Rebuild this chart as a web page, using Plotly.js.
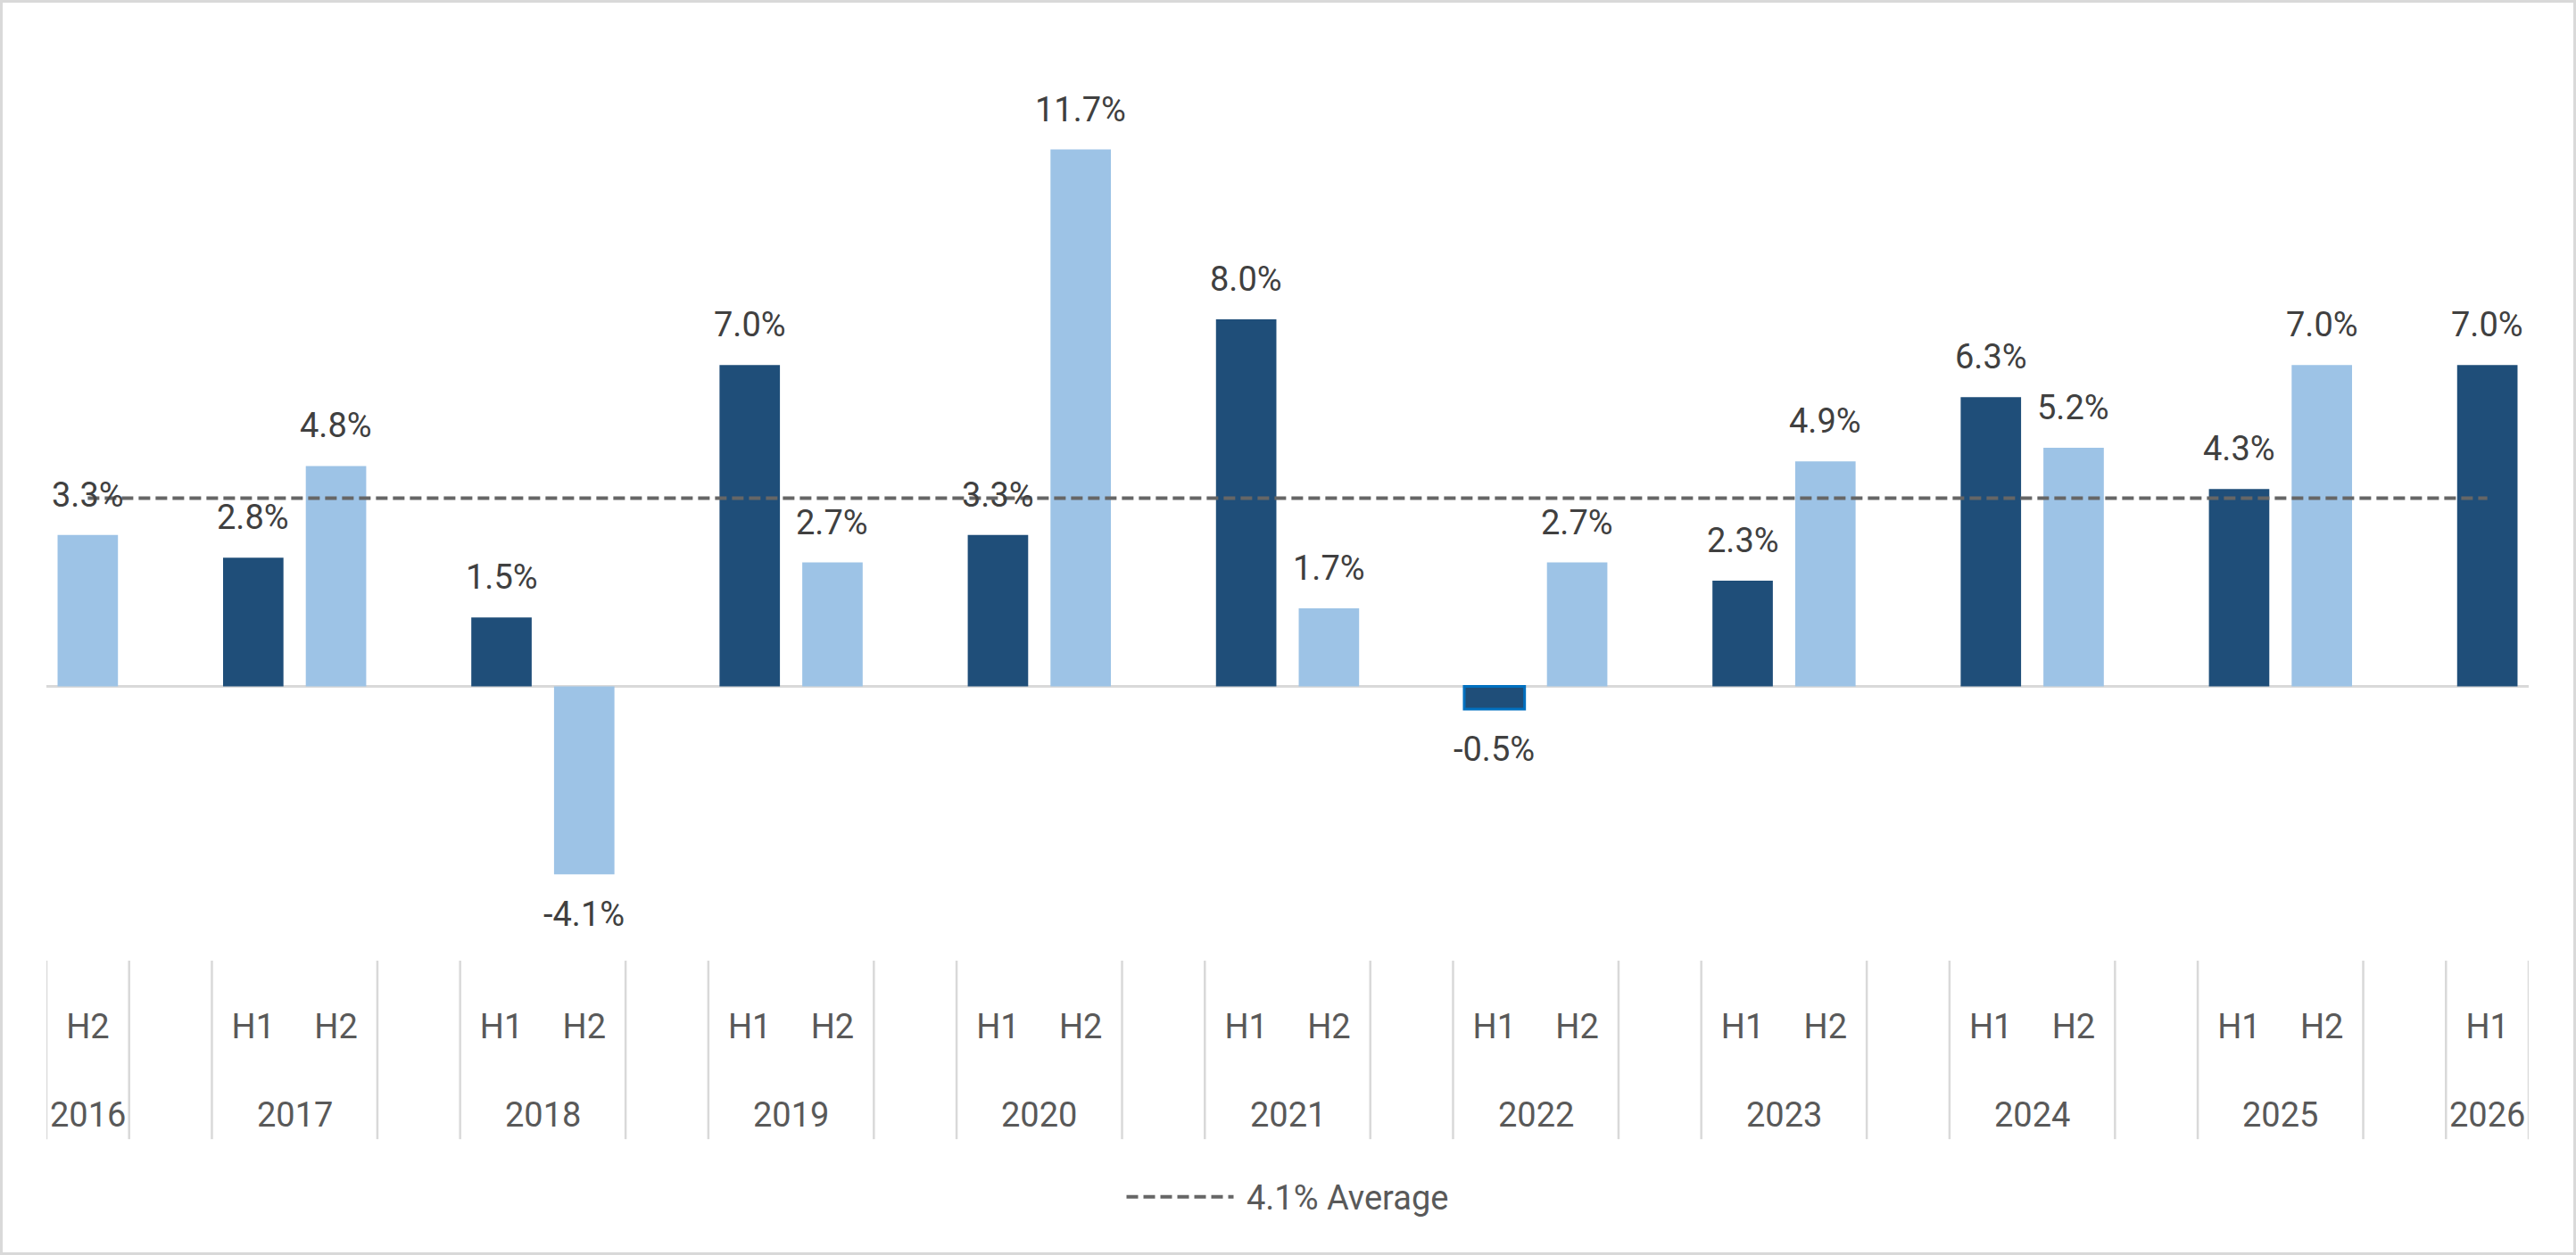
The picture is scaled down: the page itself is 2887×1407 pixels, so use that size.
<!DOCTYPE html>
<html><head>
    <meta charset="utf-8"/>
    <title>Half-year growth</title>
    <style>
        * { margin: 0px; padding: 0px }
        body { background: #fff }
        #chart {
            width: 2887px;
            height: 1407px;
            box-sizing: border-box;
            border: 3px solid #d9d9d9;
            overflow: hidden
        }
    </style>
    <script src="https://cdn.plot.ly/plotly-3.0.1.min.js"></script>
</head><body>
    <div id="chart"></div>
    <script>
    // values per year, null where the half is not in the chart
    var years = ['2016', '2017', '2018', '2019', '2020', '2021', '2022', '2023', '2024', '2025', '2026'];
    var h1Values = [null, 2.8, 1.5, 7.0, 3.3, 8.0, -0.5, 2.3, 6.3, 4.3, 7.0];
    var h2Values = [3.3, 4.8, -4.1, 2.7, 11.7, 1.7, 2.7, 4.9, 5.2, 7.0, null];
    var avgGrowth = 4.1;
    var outlined = '2022 H1';   // bar drawn with a bright edge in the source

    var slots = [], tickText = [];
    var h1x = [], h1y = [], h2x = [], h2y = [];
    var yearCenters = [], dividers = [];

    years.forEach(function(yr, i){
        if(i > 0){
            // empty column between years, like the blank category in the sheet
            slots.push('gap ' + yr);
            tickText.push('');
        }
        var first = slots.length;
        if(h1Values[i] !== null){
            slots.push(yr + ' H1'); tickText.push('H1');
            h1x.push(yr + ' H1'); h1y.push(h1Values[i]);
        }
        if(h2Values[i] !== null){
            slots.push(yr + ' H2'); tickText.push('H2');
            h2x.push(yr + ' H2'); h2y.push(h2Values[i]);
        }
        var last = slots.length - 1;
        yearCenters.push((first + last) / 2);
        dividers.push(first - 0.5, last + 0.5);
    });

    var dark = '#1f4e79', light = '#9dc3e6';
    var labelFont = {size: 38, color: '#404040'};
    var axisFont = {size: 38, color: '#595959'};

    var traces = [
        {
            type: 'bar', x: h1x, y: h1y, showlegend: false, hoverinfo: 'none',
            marker: {
                color: dark,
                line: {
                    color: '#0070c0',
                    width: h1x.map(function(k){ return k == outlined ? 3 : 0; })
                }
            }
        },
        {
            type: 'bar', x: h2x, y: h2y, showlegend: false, hoverinfo: 'none',
            marker: {color: light}
        },
        {
            type: 'scatter', mode: 'lines',
            x: [slots[0], slots[slots.length - 1]],
            y: [avgGrowth, avgGrowth],
            // leading nbsp gives the small gap after the legend line
            name: '\u00a0' + avgGrowth.toFixed(1) + '% Average',
            line: {color: '#666666', width: 4, dash: '13px,6px'},
            hoverinfo: 'none'
        }
    ];

    var annotations = [];
    function addLabels(xs, ys){
        for(var j = 0; j < xs.length; j++){
            annotations.push({
                xref: 'x', yref: 'y', x: xs[j], y: ys[j],
                text: ys[j].toFixed(1) + '%',
                showarrow: false, yanchor: 'middle',
                yshift: ys[j] < 0 ? -45 : 45,
                font: labelFont
            });
        }
    }
    addLabels(h1x, h1y);
    addLabels(h2x, h2y);

    years.forEach(function(yr, i){
        annotations.push({
            xref: 'x', yref: 'paper', x: yearCenters[i], y: -0.1668,
            text: yr, showarrow: false, yanchor: 'middle', font: axisFont
        });
    });

    var shapes = dividers.map(function(d){
        return {
            type: 'line', xref: 'x', yref: 'paper',
            x0: d, x1: d, y0: 0, y1: -0.193,
            line: {color: '#d9d9d9', width: 2.5}
        };
    });

    var layout = {
        width: 2881,
        height: 1401,
        margin: {l: 49, r: 50, t: 37, b: 327},
        paper_bgcolor: '#fff',
        plot_bgcolor: '#fff',
        font: {family: 'Roboto, sans-serif', size: 38, color: '#595959'},
        barmode: 'overlay',
        bargap: 0.27,
        xaxis: {
            type: 'category',
            categoryorder: 'array',
            categoryarray: slots,
            range: [-0.5, slots.length - 0.5],
            tickvals: slots,
            ticktext: tickText,
            tickfont: axisFont,
            ticks: '',
            ticklabelstandoff: 48,
            showgrid: false,
            zeroline: false,
            showline: false
        },
        yaxis: {
            range: [-5.98, 14.18],
            showticklabels: false,
            ticks: '',
            showgrid: false,
            zeroline: true,
            zerolinecolor: '#d9d9d9',
            zerolinewidth: 2.5
        },
        showlegend: true,
        legend: {
            orientation: 'h',
            x: 0.5, xanchor: 'center',
            y: -0.2555, yanchor: 'middle',
            font: axisFont,
            itemwidth: 120
        },
        annotations: annotations,
        shapes: shapes
    };

    Plotly.newPlot('chart', traces, layout, {staticPlot: true, displayModeBar: false});
    </script>
</body></html>
